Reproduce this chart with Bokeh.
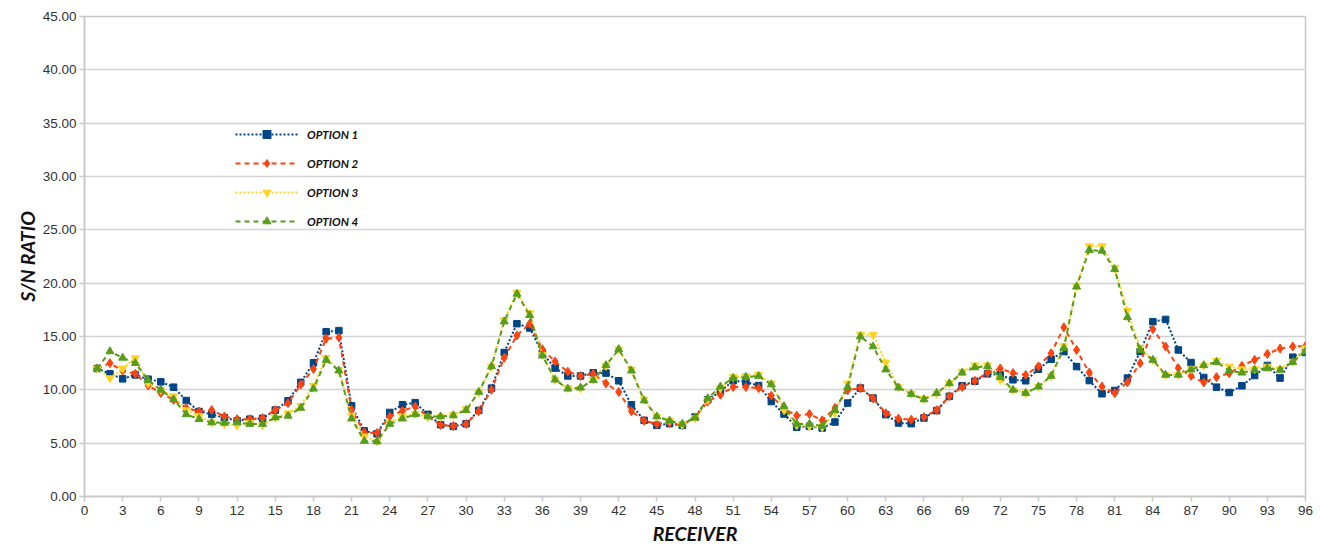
from bokeh.plotting import figure
from bokeh.models import Range1d, FixedTicker, NumeralTickFormatter, Legend, LegendItem
from bokeh.embed import file_html
from bokeh.resources import INLINE

receivers = list(range(1, 97))

option1 = [12.0, 11.5, 11.03, 11.4, 11.0, 10.75, 10.25, 9.0, 7.97, 7.7,
           7.38, 7.1, 7.25, 7.33, 8.1, 8.97, 10.7, 12.53, 15.45, 15.55,
           8.5, 6.15, 5.88, 7.88, 8.6, 8.8, 7.7, 6.73, 6.57, 6.82,
           8.07, 10.16, 13.5, 16.2, 15.8, 13.44, 12.04, 11.3, 11.3, 11.6,
           11.57, 10.85, 8.6, 7.14, 6.67, 6.83, 6.67, 7.45, 9.07, 9.85,
           10.85, 10.73, 10.4, 8.9, 7.73, 6.49, 6.58, 6.42, 6.98, 8.76,
           10.17, 9.23, 7.67, 6.89, 6.83, 7.36, 8.05, 9.39, 10.39, 10.8,
           11.5, 11.4, 10.94, 10.85, 11.93, 12.87, 13.59, 12.18, 10.87, 9.63,
           9.94, 11.1, 13.59, 16.39, 16.6, 13.74, 12.56, 11.16, 10.25, 9.75,
           10.38, 11.34, 12.28, 11.1, 13.06, 13.5]

option2 = [12.0, 12.5, 11.8, 11.5, 10.4, 9.7, 9.06, 8.3, 7.97, 8.1,
           7.5, 7.25, 7.25, 7.35, 8.1, 8.75, 10.5, 11.96, 14.8, 14.9,
           8.13, 6.0, 5.95, 7.5, 8.04, 8.44, 7.5, 6.7, 6.6, 6.8,
           8.0, 10.0, 13.0, 15.1, 16.2, 13.8, 12.66, 11.7, 11.3, 11.5,
           10.6, 9.8, 8.0, 7.1, 6.8, 6.9, 6.7, 7.4, 8.9, 9.54,
           10.26, 10.26, 10.17, 9.45, 8.23, 7.58, 7.73, 7.14, 8.3, 9.95,
           10.17, 9.2, 7.8, 7.3, 7.2, 7.45, 8.1, 9.4, 10.26, 10.85,
           11.6, 12.0, 11.57, 11.4, 12.2, 13.43, 15.86, 13.74, 11.62, 10.31,
           9.69, 10.7, 12.5, 15.68, 14.06, 12.03, 11.31, 10.69, 11.19, 11.56,
           12.25, 12.81, 13.37, 13.87, 14.06, 14.1]

option3 = [12.0, 11.1, 12.0, 12.97, 10.6, 10.0, 9.4, 8.1, 7.56, 6.94,
           6.8, 6.66, 6.9, 6.7, 7.4, 7.8, 8.5, 10.4, 13.0, 11.87,
           7.57, 5.64, 5.17, 6.95, 7.5, 7.76, 7.44, 7.5, 7.66, 8.19,
           9.75, 12.18, 16.54, 19.1, 17.2, 13.3, 10.95, 10.17, 10.17, 10.95,
           12.26, 13.8, 11.9, 9.1, 7.5, 7.14, 6.74, 7.36, 9.07, 10.17,
           11.2, 11.3, 11.4, 10.6, 8.1, 6.7, 6.6, 6.5, 7.8, 10.6,
           15.2, 15.15, 12.56, 10.26, 9.64, 9.14, 9.64, 10.63, 11.7, 12.3,
           12.3, 10.94, 10.0, 9.69, 10.31, 11.31, 14.1, 19.73, 23.47, 23.47,
           21.45, 17.42, 13.96, 12.81, 11.4, 11.4, 11.94, 12.28, 12.72, 12.19,
           11.94, 11.94, 12.19, 11.94, 12.65, 13.9]

option4 = [12.0, 13.6, 13.0, 12.5, 10.9, 10.0, 9.1, 7.7, 7.25, 6.94,
           6.9, 6.94, 6.8, 6.8, 7.4, 7.56, 8.3, 10.1, 12.8, 11.8,
           7.3, 5.2, 5.15, 6.8, 7.3, 7.7, 7.5, 7.5, 7.6, 8.1,
           9.8, 12.2, 16.4, 19.0, 17.0, 13.2, 10.95, 10.1, 10.2, 10.9,
           12.3, 13.8, 11.8, 9.0, 7.5, 7.1, 6.8, 7.4, 9.2, 10.3,
           11.1, 11.2, 11.3, 10.5, 8.45, 6.8, 6.8, 6.6, 8.1, 10.26,
           15.0, 14.06, 11.9, 10.2, 9.6, 9.1, 9.7, 10.6, 11.6, 12.1,
           12.2, 11.2, 10.0, 9.7, 10.3, 11.3, 13.9, 19.67, 23.1, 23.03,
           21.3, 16.8, 13.74, 12.8, 11.4, 11.4, 11.9, 12.3, 12.6, 11.8,
           11.6, 11.87, 12.0, 11.87, 12.6, 13.6]

series_names = ["OPTION 1", "OPTION 2", "OPTION 3", "OPTION 4"]
x_ticks = list(range(0, 97, 3))
y_ticks = list(range(0, 46, 5))

p = figure(width=1320, height=547, output_backend="svg", toolbar_location=None,
           x_range=Range1d(0, 96), y_range=Range1d(0, 45),
           min_border_left=84, min_border_right=15, min_border_top=16, min_border_bottom=50)

p.background_fill_color = "white"
p.border_fill_color = "white"
p.outline_line_color = "#c8c8c8"
p.outline_line_width = 1.5
p.xgrid.grid_line_color = None
p.ygrid.grid_line_color = "#d2d2d2"
p.ygrid.grid_line_width = 1.5

p.xaxis.ticker = FixedTicker(ticks=x_ticks)
p.yaxis.ticker = FixedTicker(ticks=y_ticks)
p.yaxis.formatter = NumeralTickFormatter(format="0.00")
for ax in (p.xaxis, p.yaxis):
    ax.axis_line_color = "#c8c8c8"
    ax.axis_line_width = 1.5
    ax.major_tick_line_color = "#c8c8c8"
    ax.major_tick_line_width = 1.5
    ax.major_tick_out = 5
    ax.major_tick_in = 0
    ax.minor_tick_line_color = None
    ax.major_label_text_font = "Liberation Sans"
    ax.major_label_text_font_size = "13.5px"
    ax.major_label_text_color = "#333333"
    ax.axis_label_text_font = "Lato"
    ax.axis_label_text_font_style = "bold italic"
    ax.axis_label_text_font_size = "19.5px"
    ax.axis_label_text_color = "#111111"

p.xaxis.axis_label = "RECEIVER"
p.yaxis.axis_label = "S/N RATIO"
p.xaxis.major_label_standoff = 4
p.xaxis.axis_label_standoff = 4
p.yaxis.major_label_standoff = 3
p.yaxis.axis_label_standoff = 1

styles = [
    (option1, "#004586", "2 2", "square", 6.5),
    (option2, "#ff420e", "5 4", "diamond", 9),
    (option3, "#ffd320", "2 2", "inverted_triangle", 8),
    (option4, "#579d1c", "5 4", "triangle", 8),
]

items = []
for (vals, color, dash, marker, size), name in zip(styles, series_names):
    ln = p.line(receivers, vals, line_color=color, line_width=2, line_dash=dash)
    sc = p.scatter(receivers, vals, marker=marker, size=size, fill_color=color,
                   line_color=color)
    items.append(LegendItem(label=name, renderers=[ln, sc]))

legend = Legend(items=items, location=(151, 265), orientation="vertical",
                glyph_width=63, glyph_height=20, label_height=20, spacing=9,
                padding=0, margin=0, label_standoff=9,
                border_line_color=None, background_fill_alpha=0,
                label_text_font="Lato", label_text_font_style="bold italic",
                label_text_font_size="11.5px", label_text_color="#111111")
p.add_layout(legend, "center")

open("out.html", "w").write(file_html(p, INLINE))
